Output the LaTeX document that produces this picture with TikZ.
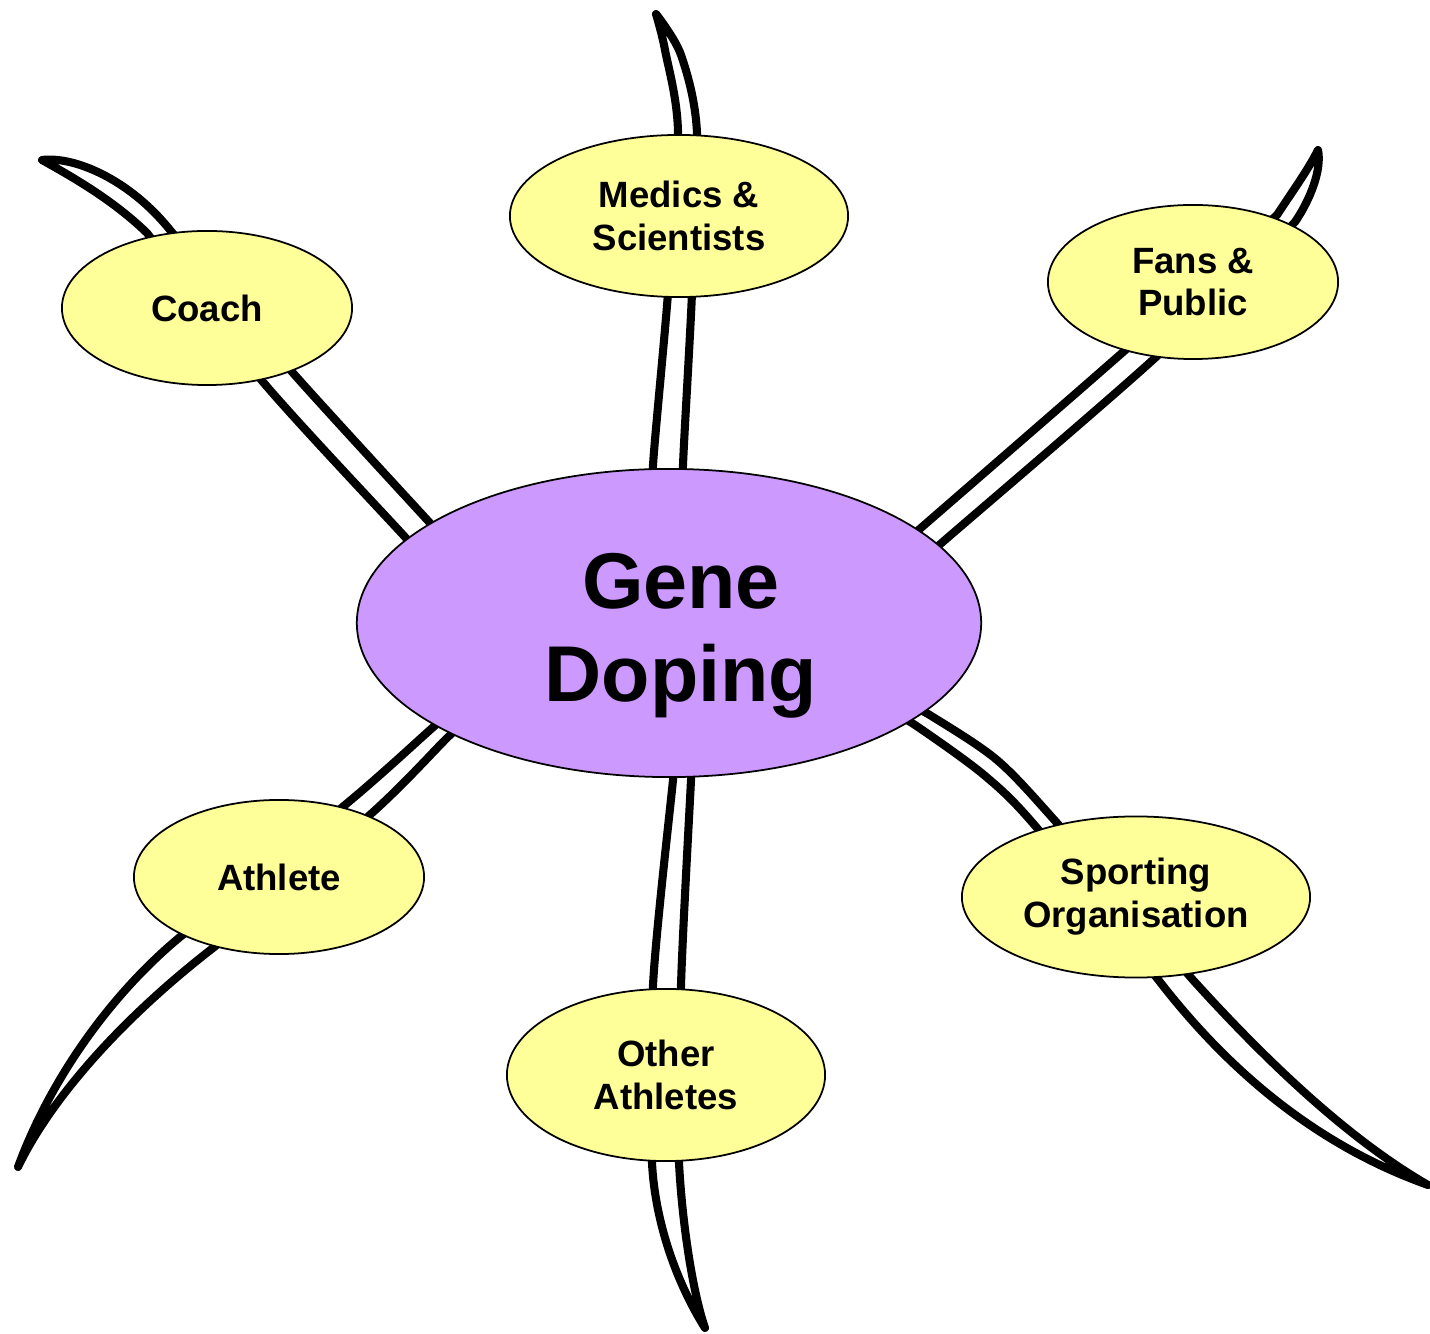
\documentclass[tikz,border=0pt]{standalone}
\usepackage{fontspec}
\setmainfont{Liberation Sans}
\usetikzlibrary{shapes.geometric}

\definecolor{roleyellow}{HTML}{FFFF99}
\definecolor{genepurple}{HTML}{CC99FF}

\tikzset{
  role/.style={ellipse, draw=black, line width=0.5pt, fill=roleyellow,
    inner sep=0pt, align=center, font=\fontsize{10.4}{12.2}\selectfont\bfseries},
  branch/.style={draw=black, fill=white, line width=2.3pt, line join=round},
}

\begin{document}
\begin{tikzpicture}[x=0.01cm, y=-0.01cm]

\useasboundingbox (0,0) rectangle (1430,1334); %% page size

\coordinate (medtip) at (656,14);
\coordinate (coachtip) at (42,160);
\coordinate (fanstip) at (1318,150);
\coordinate (athtip) at (18,1167);
\coordinate (othtip) at (705,1328);
\coordinate (sporttip) at (1428,1185);

%% branches behind the ellipses
\draw[branch] plot[smooth] coordinates {(653,520) (653,465) (668,293) (678,133) (665,50) (medtip)}
  -- plot[smooth] coordinates {(medtip) (681,55) (697,133) (692,293) (683,465) (683,520)} -- cycle;
\draw[branch] plot[smooth] coordinates {(430,565) (405,537) (263,382) (147,233)}
  .. controls (115,202) and (78,180) .. (coachtip)
  .. controls (75,156) and (130,180) .. (170,230)
  -- plot[smooth] coordinates {(170,230) (293,373) (430,523) (455,550)} -- cycle;
\draw[branch] plot[smooth] coordinates {(899,547) (922,527) (1122,353) (1277,215)}
  .. controls (1292,192) and (1308,170) .. (fanstip)
  .. controls (1322,170) and (1310,200) .. (1295,222)
  -- plot[smooth] coordinates {(1295,222) (1155,358) (945,540) (922,560)} -- cycle;
\draw[branch] plot[smooth] coordinates {(452,710) (430,730) (345,805) (180,937)}
  .. controls (110,995) and (50,1080) .. (athtip)
  .. controls (50,1100) and (120,1020) .. (213,948)
  -- plot[smooth] coordinates {(213,948) (372,813) (448,737) (470,717)} -- cycle;
\draw[branch] plot[smooth] coordinates {(675,760) (673,780) (653,985) (652,1163)}
  .. controls (655,1220) and (675,1280) .. (othtip)
  .. controls (692,1290) and (682,1220) .. (679,1163)
  -- plot[smooth] coordinates {(679,1163) (681,985) (691,780) (692,760)} -- cycle;
\draw[branch] plot[smooth] coordinates {(892,713) (915,725) (984,775) (1037,828) (1160,982)}
  .. controls (1240,1085) and (1330,1150) .. (sporttip)
  .. controls (1350,1140) and (1270,1065) .. (1193,980)
  -- plot[smooth] coordinates {(1193,980) (1057,823) (997,760) (933,717) (910,705)} -- cycle;

\node[ellipse, draw=black, line width=0.5pt, fill=genepurple, inner sep=0pt,
  minimum width=6.24cm, minimum height=3.08cm] (gene) at (669,623) {};
\node[align=center, font=\fontsize{22.5}{26.5}\selectfont\bfseries] (genetext) at (681,636) {Gene\\Doping};

\node[role, minimum width=3.38cm, minimum height=1.62cm] (medics) at (679,216) {Medics \&\\Scientists};
\node[role, minimum width=2.9cm, minimum height=1.54cm] (coach) at (207,308) {Coach};
\node[role, minimum width=2.9cm, minimum height=1.54cm] (fans) at (1193,282) {Fans \&\\Public};
\node[role, minimum width=2.9cm, minimum height=1.54cm] (athlete) at (279,877) {Athlete};
\node[role, minimum width=3.18cm, minimum height=1.72cm] (others) at (666,1075) {Other\\Athletes};
\node[role, minimum width=3.48cm, minimum height=1.61cm] (sporting) at (1136,897) {Sporting\\Organisation};

\end{tikzpicture}
\end{document}
